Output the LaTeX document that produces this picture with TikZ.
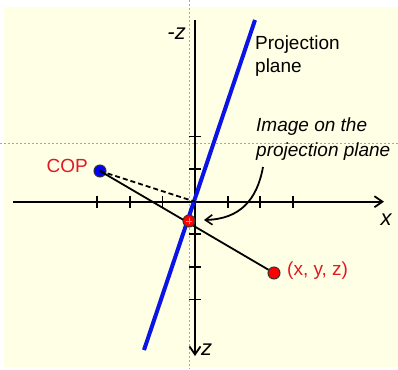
\documentclass[tikz,border=0pt]{standalone}
\usepackage{fontspec}
\setmainfont{Liberation Sans}
\usetikzlibrary{arrows.meta,calc}
\definecolor{cream}{RGB}{255,255,230}
\definecolor{txtred}{RGB}{225,25,35}
\definecolor{planeblue}{RGB}{10,20,230}
\begin{document}
\begin{tikzpicture}[x=1pt,y=-1pt,
  axis/.style={line width=2pt,-{Straight Barb[length=8pt,width=11pt,line width=1.8pt]}},
  tick/.style={line width=1.8pt},
  guide/.style={gray!70,line width=0.6pt,dash pattern=on 2pt off 2pt},
  dot/.style={circle,draw=black!80,line width=1pt,inner sep=0pt,minimum size=12pt},
  lbl/.style={font=\fontsize{19}{23}\selectfont,inner sep=0pt},
  axlbl/.style={font=\fontsize{22}{26}\selectfont\itshape,inner sep=0pt}]
\useasboundingbox (0,0) rectangle (398,369);
\fill[white] (0,0) rectangle (398,369);
\fill[cream] (4,7) rectangle (398,367);
% guide lines
\draw[guide] (189,0) -- (189,369);
\draw[guide] (0,143) -- (398,143);
% coordinates
\coordinate (O) at (195,201.7);
\coordinate (xl) at (13,201.7);
\coordinate (xr) at (384,201.7);
\coordinate (zt) at (195,20);
\coordinate (zb) at (195,356);
% axes
\draw[axis] (xl) -- (xr);
\draw[axis] (zt) -- (zb);
\foreach \t in {-3,-2,-1,1,2,3}
  \draw[tick] ($(O)+(\t*32.6,-6)$) -- ($(O)+(\t*32.6,6)$);
\foreach \t in {-2,-1,1,2,3}
  \draw[tick] ($(O)+(-6,\t*32.6)$) -- ($(O)+(6,\t*32.6)$);
% projection plane
\coordinate (pt1) at (255,20);
\coordinate (pt2) at (144,350);
\draw[planeblue,line width=4pt] (pt1) -- (pt2);
% points
\node[dot,fill=blue] (cop) at (100,171) {};
\node[dot,fill=red] (pt) at (274,273) {};
\draw[line width=1.8pt] (cop.center) -- (pt);
\draw[line width=1.8pt,dash pattern=on 5pt off 3pt] (cop.center) -- (O);
\node[dot,fill=red] (img) at (189,221) {};
\draw[line width=0.7pt,white!55!red] ($(img.center)+(-3,0)$) -- ($(img.center)+(3,0)$);
\draw[line width=0.7pt,white!55!red] ($(img.center)+(0,-3)$) -- ($(img.center)+(0,3)$);
% labels
\node[axlbl,anchor=base east] (mz) at (186,40) {-z};
\node[axlbl,anchor=base] (xlab) at (386,225) {x};
\node[axlbl,anchor=base west] (zlab) at (201,355) {z};
\node[lbl,anchor=base west,align=left] (plane) at (255,72) {Projection\\plane};
\node[lbl,anchor=base east,text=txtred] (coplab) at (88,172) {COP};
\node[lbl,anchor=west,text=txtred] (ptlab) at (287,271) {(x, y, z)};
\node[lbl,anchor=base west,align=left,font=\fontsize{19}{24.5}\selectfont\itshape] (imglab) at (256,156) {Image on the\\projection plane};
\coordinate (cs) at (263,167);
\draw[line width=1.8pt,-{Straight Barb[length=7pt,width=10pt,line width=1.6pt]}] (cs) .. controls (257,200) and (240,219) .. (204,220);
\end{tikzpicture}
\end{document}
